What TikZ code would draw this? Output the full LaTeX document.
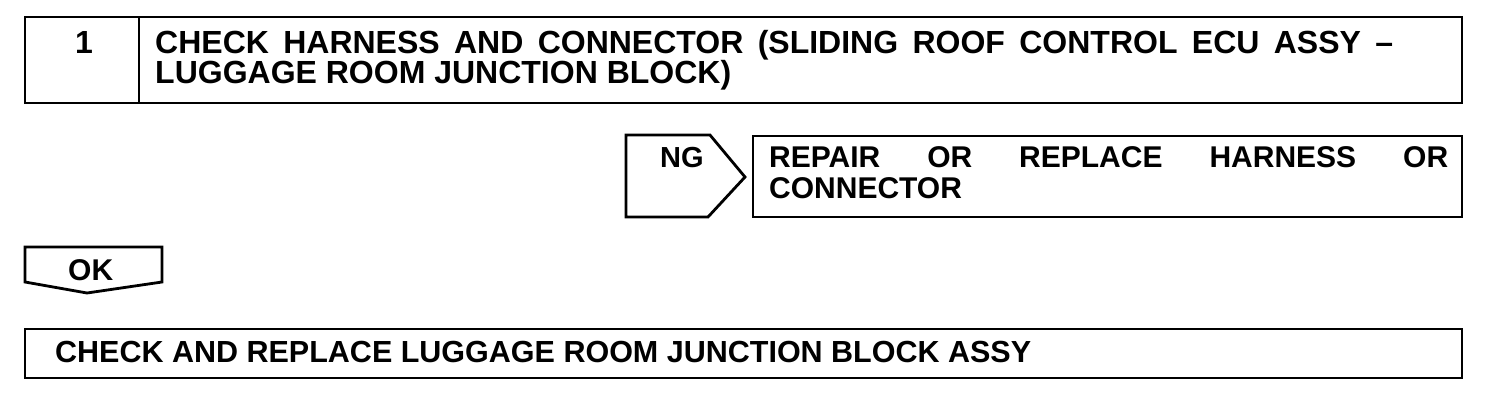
\documentclass[tikz,border=0pt]{standalone}
\usepackage{fontspec}
\setmainfont{Liberation Sans}
\tikzset{
  frame/.style={draw=black, line width=2.8pt, line join=miter},
  txt/.style={anchor=base west, inner sep=0pt, font=\fontsize{30}{30}\selectfont\bfseries},
  bigtxt/.style={txt, font=\fontsize{32}{32}\selectfont\bfseries},
}
\begin{document}
\begin{tikzpicture}[x=1pt,y=-1pt]
\useasboundingbox (0,0) rectangle (1504,410);
% top box
\draw[frame] (25,17) rectangle (1462,103);
\draw[frame] (139,17) -- (139,103);
\node[bigtxt, anchor=base] (num) at (84,53) {1};
\node[bigtxt] (t1) at (155,53) {\makebox[1238pt][s]{CHECK HARNESS AND CONNECTOR (SLIDING ROOF CONTROL ECU ASSY --}};
\node[bigtxt] (t2) at (155,83) {LUGGAGE ROOM JUNCTION BLOCK)};
% NG arrow
\draw[frame] (626,135) -- (710,135) -- (745,177) -- (708,217) -- (626,217) -- cycle;
\node[txt, font=\fontsize{29}{29}\selectfont\bfseries] (ng) at (660,167) {NG};
% repair box
\draw[frame] (753,136) rectangle (1462,217);
\node[txt] (r1) at (769,167) {\makebox[679pt][s]{REPAIR\hfill OR\hfill REPLACE\hfill HARNESS\hfill OR}};
\node[txt] (r2) at (769,198) {CONNECTOR};
% OK arrow
\draw[frame] (25,247) -- (162,247) -- (162,282) -- (87,293) -- (25,282) -- cycle;
\node[txt] (ok) at (68,280) {OK};
% bottom box
\draw[frame] (25,329) rectangle (1462,378);
\node[txt, font=\fontsize{30.5}{30.5}\selectfont\bfseries] (b1) at (55,362) {CHECK AND REPLACE LUGGAGE ROOM JUNCTION BLOCK ASSY};
\end{tikzpicture}
\end{document}
